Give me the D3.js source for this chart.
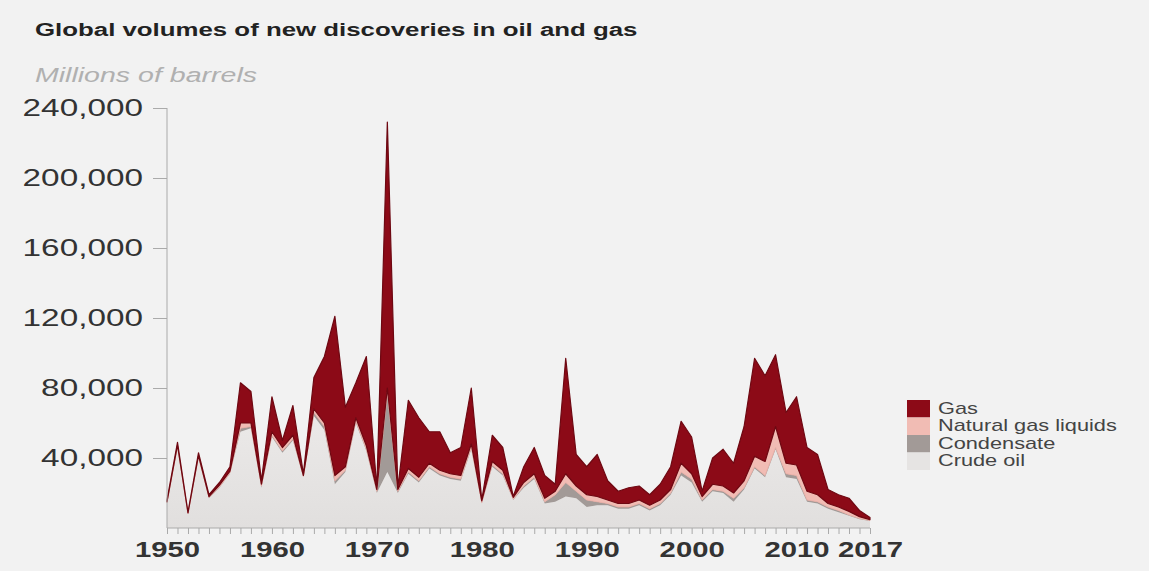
<!DOCTYPE html>
<html>
<head>
<meta charset="utf-8">
<script src="https://cdn.jsdelivr.net/npm/d3@7.9.0/dist/d3.min.js"></script>
<style>
  html, body { margin: 0; padding: 0; background: #f2f2f2; }
  svg { display: block; font-family: "Liberation Sans", Arial, Helvetica, sans-serif; }
</style>
</head>
<body>
<svg id="chart" width="1149" height="571"></svg>
<script>
// Years 1950..2017, values in millions of barrels
const years = d3.range(1950, 2018);

const crude = [
  14000, 46000, 8000, 40000, 17000, 23000, 31000, 55000, 57000, 23000,
  52000, 43000, 50000, 29000, 64000, 56000, 25000, 32000, 60000, 44000,
  20000, 32000, 20000, 31000, 26000, 34000, 30000, 28000, 27000, 45000,
  14000, 35000, 30000, 16000, 23000, 28000, 14000, 15000, 18000, 17000,
  12000, 13000, 13000, 11000, 11000, 13000, 10000, 13000, 19000, 30000,
  26000, 15000, 21000, 20000, 15000, 22000, 34000, 29000, 45000, 29000,
  28000, 15000, 14000, 11000, 9000, 7000, 5000, 4000
];
const condensate = [
  500, 500, 300, 500, 500, 500, 500, 2000, 1000, 1000,
  1000, 1000, 1000, 500, 2000, 2000, 2000, 1000, 1000, 1000,
  1000, 45000, 1000, 1000, 1000, 1000, 1000, 1000, 1000, 1000,
  500, 1000, 1000, 500, 1000, 1000, 1000, 4000, 8000, 4000,
  4000, 2000, 1000, 1000, 1000, 1000, 1000, 1000, 1000, 2000,
  2000, 1000, 1000, 1000, 2000, 1000, 1000, 1000, 1000, 2000,
  2000, 1000, 1000, 1000, 1000, 500, 500, 300
];
const ngl = [
  500, 1000, 300, 1000, 500, 1000, 1000, 3000, 2000, 1000,
  2000, 2000, 2000, 500, 2000, 2000, 3000, 2000, 2000, 2000,
  1000, 3000, 1000, 2000, 2000, 2000, 2000, 2000, 2000, 2000,
  1000, 2000, 2000, 1000, 2000, 2000, 2000, 2000, 5000, 3000,
  3000, 3000, 2000, 2000, 2000, 2000, 2000, 2000, 2000, 5000,
  3000, 2000, 3000, 3000, 3000, 4000, 6000, 8000, 12000, 6000,
  6000, 5000, 4000, 2000, 2000, 2000, 1000, 500
];
const gas = [
  1000, 1500, 400, 1500, 1000, 1500, 2500, 23000, 18000, 2000,
  20000, 4000, 17000, 1000, 18000, 38000, 91000, 34000, 20000, 51000,
  1000, 152000, 1000, 39000, 34000, 18000, 22000, 12000, 16000, 32000,
  500, 15000, 13000, 500, 9000, 15000, 13000, 4000, 66000, 18000,
  16000, 24000, 11000, 7000, 9000, 8000, 6000, 9000, 13000, 24000,
  21000, 3000, 15000, 21000, 17000, 31000, 56000, 49000, 41000, 29000,
  39000, 25000, 23000, 8000, 7000, 7500, 3500, 1200
];

const keys = ["crude", "condensate", "ngl", "gas"];
const labels = { gas: "Gas", ngl: "Natural gas liquids", condensate: "Condensate", crude: "Crude oil" };
const colors = { gas: "#8c0a17", ngl: "#f1bcb4", condensate: "#a29a97", crude: "#e6e4e3" };
const yTicks = [40000, 80000, 120000, 160000, 200000, 240000];
const xLabels = [1950, 1960, 1970, 1980, 1990, 2000, 2010, 2017];

const rows = years.map((yr, i) => ({
  year: yr, crude: crude[i], condensate: condensate[i], ngl: ngl[i], gas: gas[i]
}));

// the original is a widened picture, so type is stretched sideways
const sx = 1.36;
function stretch(sel) {
  sel.each(function () {
    const t = d3.select(this);
    const ax = +t.attr("x") || 0;
    t.attr("transform", `translate(${ax * (1 - sx)},0) scale(${sx},1)`);
  });
}

const svg = d3.select("#chart");

const x = d3.scaleLinear().domain([1950, 2017]).range([167, 870]);
const y = d3.scaleLinear().domain([0, 240000]).range([528, 108]);

// title + subtitle
svg.append("text")
  .attr("x", 35).attr("y", 36)
  .attr("font-size", 19).attr("font-weight", "bold").attr("fill", "#222")
  .text("Global volumes of new discoveries in oil and gas")
  .call(stretch);
svg.append("text")
  .attr("x", 35).attr("y", 82)
  .attr("font-size", 21).attr("font-style", "italic").attr("fill", "#b0b0b0")
  .text("Millions of barrels")
  .call(stretch);

// stacked areas
const series = d3.stack().keys(keys)(rows);
const area = d3.area()
  .x(d => x(d.data.year))
  .y0(d => y(d[0]))
  .y1(d => y(d[1]));

const defs = svg.append("defs");
const grad = defs.append("linearGradient").attr("id", "crudeGrad")
  .attr("x1", 0).attr("y1", 0).attr("x2", 0).attr("y2", 1);
grad.append("stop").attr("offset", "0%").attr("stop-color", "#ebe9e8");
grad.append("stop").attr("offset", "100%").attr("stop-color", "#e1dfde");

svg.append("g").selectAll("path")
  .data(series)
  .join("path")
  .attr("d", area)
  .attr("fill", d => d.key === "crude" ? "url(#crudeGrad)" : colors[d.key])
  .attr("stroke", d => d.key === "gas" ? "#6e0812" : d.key === "ngl" ? "#e9a9a1" : "none")
  .attr("stroke-width", d => d.key === "gas" ? 1.2 : 0.8)
  .attr("stroke-linejoin", "round");

// y axis
const yAxis = d3.axisLeft(y)
  .tickValues(yTicks)
  .tickSize(14)
  .tickPadding(10)
  .tickFormat(d3.format(","));
const gy = svg.append("g").attr("transform", "translate(167,0)").call(yAxis);
gy.select(".domain").attr("stroke", "#aaa").attr("d", `M0,${y(240000)}V${y(0)}`);
gy.selectAll(".tick line").attr("stroke", "#aaa");
gy.selectAll(".tick text")
  .attr("font-size", 24.5).attr("fill", "#333")
  .attr("font-family", "'Liberation Sans', Arial, sans-serif")
  .call(stretch);

// x axis: yearly minor ticks + labels
const xAxis = d3.axisBottom(x)
  .tickValues(years)
  .tickSize(6)
  .tickFormat(d => xLabels.includes(d) ? d : "");
const gx = svg.append("g").attr("transform", "translate(0,528)").call(xAxis);
gx.select(".domain").attr("stroke", "#aaa").attr("d", `M${x(1950)},0H${x(2017)}`);
gx.selectAll(".tick line").attr("stroke", "#aaa");
gx.selectAll(".tick text")
  .attr("font-size", 21.5).attr("font-weight", "bold").attr("fill", "#333")
  .attr("dy", "0.95em")
  .attr("font-family", "'Liberation Sans', Arial, sans-serif")
  .call(stretch);

// legend
const legendOrder = ["gas", "ngl", "condensate", "crude"];
const lg = svg.append("g").attr("transform", "translate(907,400)");
legendOrder.forEach((k, i) => {
  lg.append("rect")
    .attr("x", 0).attr("y", i * 17.5)
    .attr("width", 23).attr("height", 17.5)
    .attr("fill", colors[k]);
  lg.append("text")
    .attr("x", 31).attr("y", i * 17.5 + 14)
    .attr("font-size", 16).attr("fill", "#444")
    .text(labels[k])
    .call(stretch);
});
</script>
</body>
</html>
